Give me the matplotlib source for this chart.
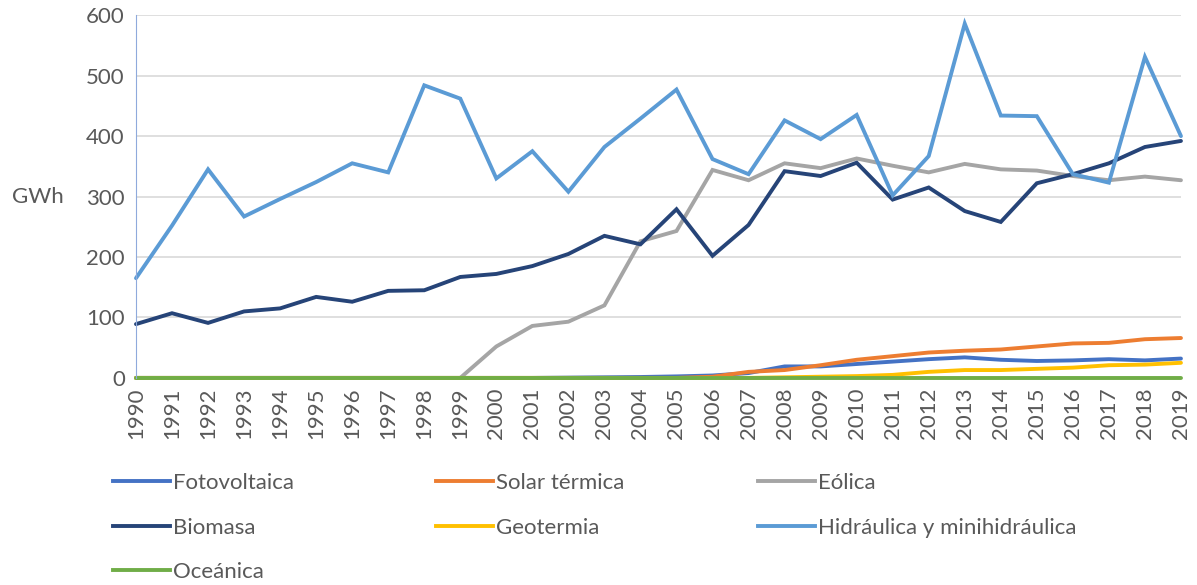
import numpy as np
import matplotlib
matplotlib.use("Agg")
import matplotlib.pyplot as plt
from matplotlib.lines import Line2D

years = list(range(1990, 2020))

fotovoltaica = [0, 0, 0, 0, 0, 0, 0, 0, 0, 0, 0, 0, 0.5, 1, 1.5, 2.5, 4, 8,
                19, 19, 23, 27, 31, 34, 30, 28, 29, 31, 29, 32]
solar_termica = [0, 0, 0, 0, 0, 0, 0, 0, 0, 0, 0, 0, 0, 0, 0, 0, 2, 10,
                 13, 21, 30, 36, 42, 45, 47, 52, 57, 58, 64, 66]
eolica = [0, 0, 0, 0, 0, 0, 0, 0, 0, 0, 52, 86, 93, 120, 226, 243, 344, 327,
          355, 347, 363, 351, 340, 354, 345, 343, 334, 327, 333, 327]
biomasa = [89, 107, 91, 110, 115, 134, 126, 144, 145, 167, 172, 185, 205, 235,
           221, 279, 202, 253, 342, 334, 356, 295, 315, 276, 258, 322, 337, 355,
           382, 392]
geotermia = [0, 0, 0, 0, 0, 0, 0, 0, 0, 0, 0, 0, 0, 0, 0, 0, 0, 0,
             1, 2, 3, 5, 10, 13, 13, 15, 17, 21, 22, 25]
hidraulica = [165, 252, 345, 267, 296, 324, 355, 340, 484, 462, 330, 375, 308,
              382, 429, 477, 362, 337, 426, 395, 435, 302, 367, 586, 434, 433,
              337, 323, 531, 400]
oceanica = [0] * 30

names = ["Fotovoltaica", "Solar térmica", "Eólica", "Biomasa", "Geotermia",
         "Hidráulica y minihidráulica", "Oceánica"]
series = [fotovoltaica, solar_termica, eolica, biomasa, geotermia, hidraulica, oceanica]
colors = ["#4472C4", "#ED7D31", "#A5A5A5", "#264478", "#FFC000", "#5B9BD5", "#70AD47"]

plt.rcParams['font.family'] = ['Lato', 'DejaVu Sans']
txt = "#595959"
fs = 16

fig = plt.figure(figsize=(11.97, 5.85), dpi=100)
ax = fig.add_axes([0.1136, 0.354, 0.873, 0.620])

for vals, c in zip(series, colors):
    ax.plot(years, vals, color=c, lw=2.8, solid_capstyle='round',
            solid_joinstyle='miter', clip_on=False)

ax.set_xlim(1990, 2019)
ax.set_ylim(0, 600)
ax.set_yticks(range(0, 601, 100))
ax.set_xticks(years)
ax.set_xticklabels([str(y) for y in years], rotation=90)
ax.tick_params(axis='both', length=0, labelsize=fs, colors=txt, pad=7)
ax.tick_params(axis='y', pad=8)
ax.grid(axis='y', color="#D9D9D9", lw=1.2)
ax.set_axisbelow(True)
for s in ['top', 'right', 'bottom']:
    ax.spines[s].set_visible(False)
ax.spines['left'].set_color("#8FAADC")
ax.spines['left'].set_linewidth(0.8)

ax.set_ylabel("GWh", rotation=0, fontsize=fs, color=txt)
ax.yaxis.set_label_coords(-0.094, 0.47)

# legend, 3 columns placed like the original
col_x = [0.094, 0.364, 0.633]
row_y = [0.174, 0.097, 0.022]
for i, (n, c) in enumerate(zip(names, colors)):
    h = Line2D([0], [0], color=c, lw=2.8)
    fig.legend(handles=[h], labels=[n], loc='center left',
               bbox_to_anchor=(col_x[i % 3], row_y[i // 3]), frameon=False,
               fontsize=fs, labelcolor=txt, handlelength=2.6, handletextpad=0.12,
               borderpad=0, borderaxespad=0)

fig.savefig("out.png", dpi=100)
